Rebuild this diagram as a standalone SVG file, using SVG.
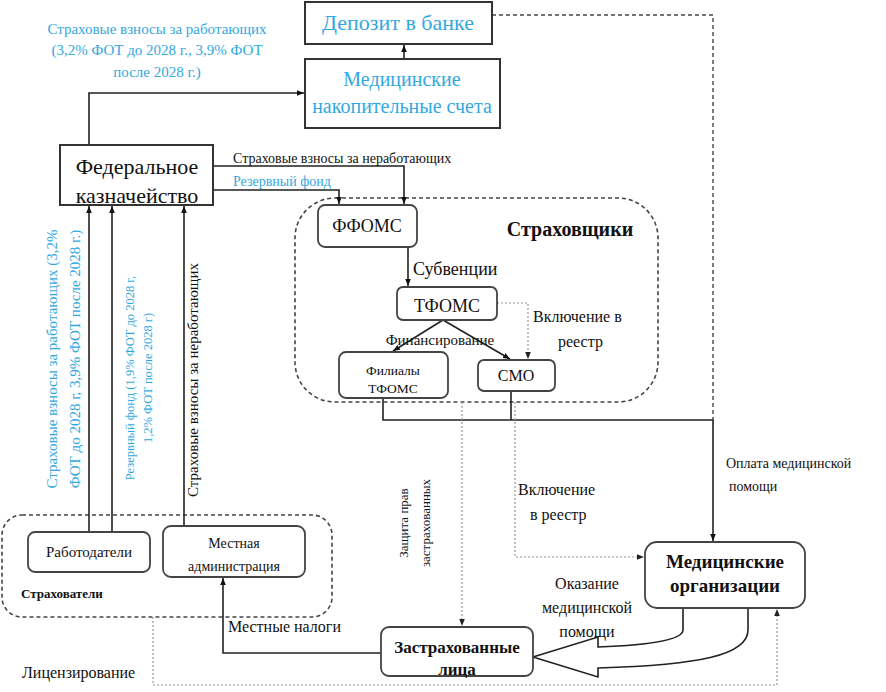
<svg xmlns="http://www.w3.org/2000/svg" width="886" height="692" viewBox="0 0 886 692">
<defs>
<marker id="ab" viewBox="0 0 10 10" refX="10" refY="5" markerWidth="7" markerHeight="7" orient="auto" markerUnits="userSpaceOnUse"><path d="M0,1 L10,5 L0,9 z" fill="#111"/></marker>
<marker id="ag" viewBox="0 0 10 10" refX="10" refY="5" markerWidth="7" markerHeight="7" orient="auto" markerUnits="userSpaceOnUse"><path d="M0,1 L10,5 L0,9 z" fill="#222"/></marker>
</defs>
<style>
text{fill:#111;font-family:"Times New Roman","Liberation Serif","DejaVu Serif",serif}
.box{fill:#fff;stroke:#333;stroke-width:2}
.rbox{fill:#fff;stroke:#444;stroke-width:1.8}
.cont{fill:none;stroke:#444;stroke-width:1.6;stroke-dasharray:4 3}
.c{fill:none;stroke:#222;stroke-width:1.6}
.dk{fill:none;stroke:#444;stroke-width:1.4;stroke-dasharray:4 3}
.d{fill:none;stroke:#999;stroke-width:1.2;stroke-dasharray:2 2}
.cy{fill:#33a8e0}
.m{text-anchor:middle}
.b{font-weight:bold}
</style>
<g id="containers">
<rect id="insurers" class="cont" x="295" y="198" width="363" height="204" rx="40"/>
<rect id="policyholders" class="cont" x="2" y="515" width="330" height="102" rx="20"/>
</g>
<g id="connectors">
<path class="c" d="M89,145 V93 H304" marker-end="url(#ab)"/>
<path class="c" d="M404,59 V45" marker-end="url(#ab)"/>
<path class="c" d="M213,166 H404 V204" marker-end="url(#ab)"/>
<path class="c" d="M213,190 H339 V204" marker-end="url(#ab)"/>
<path class="c" d="M408,247 V286" marker-end="url(#ab)"/>
<path class="c" d="M443,320 L393,351" marker-end="url(#ab)"/>
<path class="c" d="M443,320 L510,359" marker-end="url(#ab)"/>
<path class="d" d="M497,303 H528 V359" marker-end="url(#ag)"/>
<path class="c" d="M89,532 V206" marker-end="url(#ab)"/>
<path class="c" d="M112,532 V206" marker-end="url(#ab)"/>
<path class="c" d="M184,526 V206" marker-end="url(#ab)"/>
<path class="c" d="M383,398 V420 H713 V541" marker-end="url(#ab)"/>
<path class="c" d="M511,391 V420"/>
<path class="dk" d="M492,15 H713 V420"/>
<path class="d" d="M462,402 V626" marker-end="url(#ag)"/>
<path class="d" d="M515,402 V557 H644" marker-end="url(#ag)"/>
<path class="c" d="M381,653 H223 V578" marker-end="url(#ab)"/>
<path class="d" d="M153,617 V685 H777 V609" marker-end="url(#ag)"/>
<path class="c" style="fill:#fff" d="M683,608 V630 C683,640 650,645 598,647 V637 L533,657 L598,677 V668 C700,665 748,655 748,630 V608"/>
</g>
<g id="deposit"><rect class="box" x="305" y="2" width="187" height="42"/><text class="m cy" x="398" y="30" font-size="22">Депозит в банке</text></g>
<g id="accounts"><rect class="box" x="305" y="59" width="195" height="69"/><text class="m cy" x="402" y="86" font-size="20">Медицинские</text><text class="m cy" x="402" y="113" font-size="20">накопительные счета</text></g>
<g id="treasury"><rect class="box" x="60" y="145" width="153" height="60"/><text class="m" x="137" y="174" font-size="22">Федеральное</text><text class="m" x="137" y="203" font-size="22">казначейство</text></g>
<g id="ffoms"><rect class="rbox" x="318" y="205" width="99" height="42" rx="7"/><text class="m" x="367" y="232" font-size="18">ФФОМС</text></g>
<g id="tfoms"><rect class="rbox" x="397" y="287" width="100" height="33" rx="6"/><text class="m" x="447" y="312" font-size="18">ТФОМС</text></g>
<g id="branches"><rect class="rbox" x="339" y="352" width="109" height="46" rx="7"/><text class="m" x="393" y="375" font-size="13.5">Филиалы</text><text class="m" x="393" y="393" font-size="13.5">ТФОМС</text></g>
<g id="smo"><rect class="rbox" x="478" y="360" width="77" height="31" rx="6"/><text class="m" x="516" y="381" font-size="16">СМО</text></g>
<text class="m b" x="570" y="236" font-size="20">Страховщики</text>
<g id="medorg"><rect class="rbox" x="645" y="542" width="160" height="66" rx="12"/><text class="m b" x="725" y="568" font-size="19">Медицинские</text><text class="m b" x="725" y="592" font-size="19">организации</text></g>
<g id="insured"><rect class="rbox" x="381" y="627" width="152" height="49" rx="8"/><text class="m b" x="457" y="653" font-size="17">Застрахованные</text><text class="m b" x="457" y="675" font-size="17">лица</text></g>
<g id="employers"><rect class="rbox" x="28" y="532" width="122" height="40" rx="7"/><text class="m" x="89" y="557" font-size="15">Работодатели</text></g>
<g id="localadmin"><rect class="rbox" x="163" y="526" width="142" height="51" rx="8"/><text class="m" x="234" y="548" font-size="14">Местная</text><text class="m" x="234" y="571" font-size="14">администрация</text></g>
<text class="b" x="21" y="598" font-size="13">Страхователи</text>
<g id="labels">
<text class="m cy" x="157" y="34" font-size="15">Страховые взносы за работающих</text>
<text class="m cy" x="157" y="55" font-size="15">(3,2% ФОТ до 2028 г., 3,9% ФОТ</text>
<text class="m cy" x="157" y="77" font-size="15">после 2028 г.)</text>
<text x="233" y="163" font-size="14">Страховые взносы за неработающих</text>
<text class="cy" x="233" y="186" font-size="14">Резервный фонд</text>
<text x="413" y="275" font-size="18">Субвенции</text>
<text x="533" y="322" font-size="16">Включение в</text>
<text x="558" y="347" font-size="16">реестр</text>
<text class="m" x="440" y="345" font-size="15">Финансирование</text>
<text x="518" y="495" font-size="16">Включение</text>
<text x="530" y="520" font-size="16">в реестр</text>
<text x="726" y="468" font-size="14">Оплата медицинской</text>
<text x="729" y="491" font-size="14">помощи</text>
<text class="m" x="587" y="589" font-size="16">Оказание</text>
<text class="m" x="587" y="613" font-size="16">медицинской</text>
<text class="m" x="587" y="637" font-size="16">помощи</text>
<text x="228" y="632" font-size="16">Местные налоги</text>
<text x="22" y="678" font-size="16">Лицензирование</text>
<text class="m" font-size="13" transform="translate(408,523) rotate(-90)">Защита прав</text>
<text class="m" font-size="13" transform="translate(430,523) rotate(-90)">застрахованных</text>
<text class="m cy" font-size="15" transform="translate(57,359) rotate(-90)">Страховые взносы за работающих (3,2%</text>
<text class="m cy" font-size="15" transform="translate(80,359) rotate(-90)">ФОТ до 2028 г, 3,9% ФОТ после 2028 г.)</text>
<text class="m cy" font-size="12.5" transform="translate(134,378) rotate(-90)">Резервный фонд (1,9% ФОТ до 2028 г,</text>
<text class="m cy" font-size="12.5" transform="translate(152,378) rotate(-90)">1,2% ФОТ после 2028 г)</text>
<text class="m" font-size="15" transform="translate(198,380) rotate(-90)">Страховые взносы за неработающих</text>
</g>
</svg>
